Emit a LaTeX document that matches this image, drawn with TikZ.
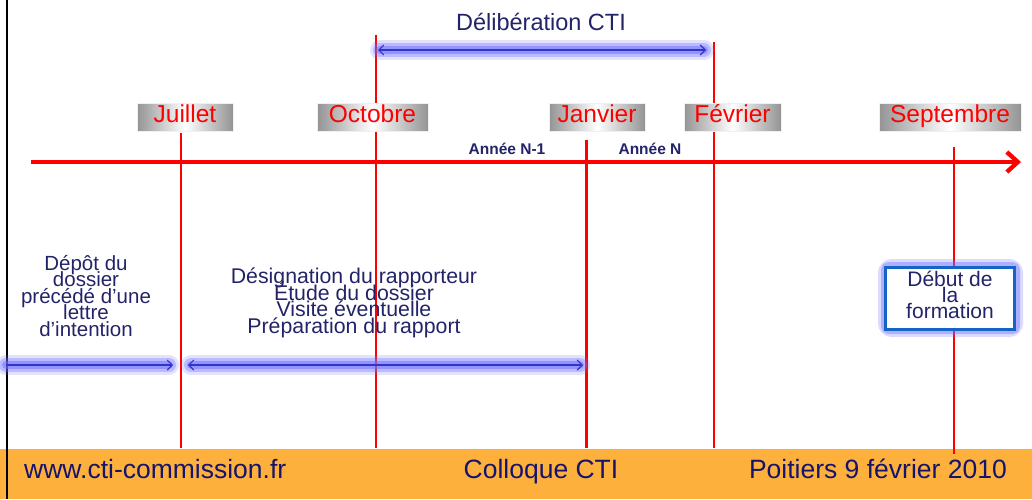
\documentclass[tikz,border=0pt]{standalone}
\usepackage{fontspec}
\setmainfont{Liberation Sans}
\usetikzlibrary{arrows.meta}
\definecolor{navy}{RGB}{35,35,105}
\definecolor{footnavy}{RGB}{20,20,110}
\definecolor{footorange}{RGB}{253,176,60}
\definecolor{glowc}{RGB}{110,110,255}
\definecolor{arrblue}{RGB}{50,50,205}
\definecolor{boxblue}{RGB}{20,100,200}
\tikzset{
  month/.style={minimum height=28pt, inner sep=0pt, text height=17.5pt, text depth=6.5pt, left color=black!42, right color=black!42, middle color=white, text=red, font=\fontsize{24.5}{28}\selectfont, draw=black!6, line width=0.6pt},
  redline/.style={draw=red, line width=2pt},
  glowA/.style={draw=glowc, line width=20pt, line cap=round, opacity=0.2},
  glowB/.style={draw=glowc, line width=14pt, line cap=round, opacity=0.35},
  glowC/.style={draw=glowc, line width=8pt, line cap=round, opacity=0.5},
  bluearrow/.style={draw=arrblue, line width=1.1pt, arrows={Straight Barb[length=5pt,width=10pt]-Straight Barb[length=5pt,width=10pt]}},
  bluearrowR/.style={draw=arrblue, line width=1.1pt, arrows={-Straight Barb[length=5pt,width=10pt]}},
  bodytext/.style={text=navy, align=center, inner sep=0pt},
  yeartext/.style={text=navy, font=\bfseries\fontsize{15.5}{18}\selectfont, inner sep=0pt},
  foottext/.style={text=footnavy, font=\fontsize{26.5}{30}\selectfont, inner sep=0pt, anchor=base}
}
\begin{document}
\lineskiplimit=-100pt
\lineskip=0pt
\begin{tikzpicture}[x=1pt,y=-1pt]
\useasboundingbox (0,0) rectangle (1032,499);
% footer
\fill[footorange] (0,449) rectangle (1032,499);
% left black rule
\coordinate (blT) at (7,0);
\coordinate (blB) at (7,499);
\draw[black, line width=2.5pt] (blT) -- (blB);
% vertical red lines
\coordinate (julT) at (181,133); \coordinate (julB) at (181,448);
\coordinate (octT) at (376,35);  \coordinate (octB) at (376,448);
\coordinate (janT) at (586,140); \coordinate (janB) at (586,448);
\coordinate (fevT) at (714,42);  \coordinate (fevB) at (714,448);
\coordinate (sepT) at (954,147); \coordinate (sepB) at (954,454);
\draw[redline] (julT) -- (julB);
\draw[redline] (octT) -- (octB);
\draw[redline, line width=3pt] (janT) -- (janB);
\draw[redline] (fevT) -- (fevB);
\draw[redline] (sepT) -- (sepB);
% month labels
\node[month, minimum width=96pt]  (jul) at (185,117)   {Juillet};
\node[month, minimum width=111pt] (oct) at (372.5,117) {Octobre};
\node[month, minimum width=96pt]  (jan) at (597,117)   {Janvier};
\node[month, minimum width=97pt]  (fev) at (732.5,117) {Février};
\node[month, minimum width=142pt] (sep) at (950,117)   {Septembre};
% timeline
\coordinate (tlS) at (31,162);
\coordinate (tlE) at (1021,162);
\draw[red, line width=4.3pt, -{Straight Barb[length=11pt,width=20pt]}] (tlS) -- (tlE);
\node[yeartext] (n1) at (507,149) {Année N-1};
\node[yeartext] (n0) at (650,149) {Année N};
% Deliberation arrow
\coordinate (dlL) at (378,50);
\coordinate (dlR) at (706,50);
\foreach \g in {glowA,glowB,glowC} \draw[\g] ([xshift=2pt]dlL) -- ([xshift=-2pt]dlR);
\draw[bluearrow] (dlL) -- (dlR);
\node[bodytext, font=\fontsize{23.5}{28}\selectfont] (delib) at (541,22) {Délibération CTI};
% lower-left arrow
\coordinate (a1L) at (6,365);
\coordinate (a1R) at (173,365);
\foreach \g in {glowA,glowB,glowC} \draw[\g] (a1L) -- ([xshift=-4pt]a1R);
\draw[bluearrowR] (a1L) -- (a1R);
% lower double arrow
\coordinate (a2L) at (188,365);
\coordinate (a2R) at (583,365);
\foreach \g in {glowA,glowB,glowC} \draw[\g] ([xshift=3pt]a2L) -- ([xshift=-3pt]a2R);
\draw[bluearrow] (a2L) -- (a2R);
% texts
\node[bodytext, font=\fontsize{20.5}{16.5}\selectfont] (depot) at (86,296)
  {Dépôt du\\dossier\\précédé d’une\\lettre\\d’intention};
\node[bodytext, font=\fontsize{21.3}{16.7}\selectfont] (desig) at (354,303)
  {Désignation du rapporteur\\Étude du dossier\\Visite éventuelle\\Préparation du rapport};
% Debut de la formation box
\coordinate (dbC) at (950,298);
\draw[glowc, line width=16pt, opacity=0.25, rounded corners=6pt] (886,267) rectangle (1015,329);
\draw[glowc, line width=10pt, opacity=0.4, rounded corners=3pt] (886,267) rectangle (1015,329);
\node[draw=boxblue, line width=3pt, fill=white, minimum width=129pt, minimum height=62pt, inner sep=0pt] (debut) at (dbC) {};
\node[bodytext, font=\fontsize{21}{16}\selectfont] (debutT) at (950,295) {Début de\\la\\formation};
% footer texts
\node[foottext, anchor=base west] (url) at (24,478) {www.cti-commission.fr};
\node[foottext] (coll) at (541,478) {Colloque CTI};
\node[foottext, anchor=base east] (poit) at (1007,478) {Poitiers 9 février 2010};
\end{tikzpicture}
\end{document}
